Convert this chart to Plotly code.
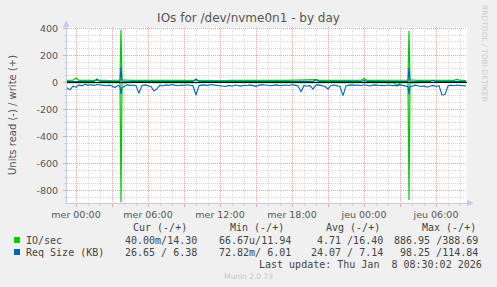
import pandas as pd
import plotly.graph_objects as go

# ---------------- data (15-minute samples, 2026-01-06 23:15 .. 2026-01-08 08:30) ----------------
start_time = "2026-01-06 23:15"

io_read = [
    1.2, 0.8, 1.5, 0.9, 0.6, 1.1, 0.4, 0.7, 0.9, 0.5,
    0.8, 0.6, 1.0, 0.5, 0.7, 0.9, 1.4, 2.0, 886.95, 3.0,
    0.6, 0.8, 0.4, 0.7, 1.8, 0.5, 0.6, 0.9, 0.7, 1.5,
    1.1, 0.5, 0.7, 0.4, 0.6, 0.3, 0.5, 0.8, 0.4, 0.6,
    0.5, 0.7, 0.9, 2.2, 0.6, 0.4, 0.5, 0.7, 0.3, 0.5,
    0.6, 0.4, 0.8, 0.7, 0.5, 0.9, 0.4, 0.6, 0.8, 0.5,
    0.7, 0.4, 0.5, 0.9, 0.6, 0.3, 0.5, 0.7, 0.8, 0.4,
    0.5, 0.7, 0.6, 0.4, 0.8, 0.3, 0.5, 0.9, 1.6, 0.6,
    0.8, 0.5, 1.2, 0.7, 0.4, 0.6, 0.9, 1.3, 0.5, 0.4,
    0.6, 0.9, 2.4, 0.7, 0.5, 0.4, 0.6, 0.5, 0.7, 0.8,
    0.5, 0.9, 0.6, 0.4, 0.7, 0.5, 0.8, 0.6, 0.5, 4.0,
    28.0, 0.7, 0.9, 1.4, 870.0, 2.8, 0.7, 0.5, 0.9, 0.6,
    1.1, 0.8, 0.6, 0.9, 0.7, 2.0, 1.8, 0.6, 0.5, 0.7,
    0.6, 0.5, 0.4, 0.04,
]

io_write = [
    15, 14.5, 16, 32, 15.2, 14.8, 15.5, 14.2, 15, 16.1,
    14.7, 15.3, 14.9, 15.6, 14.4, 15.1, 15.8, 16.5, 388.69, 18,
    15.2, 14.6, 15, 15.4, 14.8, 15.9, 14.3, 15.1, 14.7, 15.5,
    15, 14.6, 15.3, 14.9, 15.7, 14.2, 15.1, 14.8, 15.4, 15,
    14.7, 15.2, 15.6, 17, 14.9, 15.3, 14.5, 15, 15.8, 14.6,
    15.2, 14.9, 15.5, 14.4, 15.1, 15.7, 14.8, 15.3, 14.6, 15,
    15.4, 14.7, 15.1, 15.9, 14.5, 15.2, 14.8, 15.6, 15, 14.3,
    15.1, 14.9, 15.5, 14.6, 15.3, 14.8, 15.2, 15.7, 16, 15.1,
    14.7, 15.4, 16.2, 21, 15, 14.6, 15.3, 14.9, 15.5, 15.1,
    14.8, 15.2, 16.4, 15, 14.7, 15.3, 14.9, 15.6, 16, 30,
    15.5, 14.8, 15.2, 14.6, 15.1, 15.4, 14.9, 15.2, 14.7, 15.3,
    15, 14.6, 15.8, 16.5, 380, 18, 15.1, 14.8, 15.3, 14.9,
    15.5, 15, 16.2, 14.7, 15.1, 15.4, 14.8, 15.2, 14.6, 15,
    22, 15.1, 14.7, 14.30,
]

req_read = [
    40, 55, 28, 35, 18, 25, 14, 20, 17, 22,
    15, 19, 21, 24, 20, 26, 38, 22, 86, 30,
    18, 22, 19, 25, 80, 22, 18, 24, 30, 64,
    48, 20, 26, 18, 22, 16, 20, 24, 19, 22,
    17, 21, 25, 93, 24, 18, 20, 22, 16, 19,
    23, 21, 26, 30, 22, 28, 19, 24, 27, 21,
    25, 18, 22, 29, 20, 16, 19, 22, 25, 20,
    18, 24, 21, 19, 23, 17, 20, 26, 69, 22,
    28, 24, 50, 20, 18, 25, 30, 48, 22, 19,
    24, 30, 98.25, 26, 20, 18, 22, 19, 24, 17,
    21, 26, 20, 18, 23, 21, 25, 19, 22, 24,
    20, 18, 22, 30, 88, 28, 20, 24, 30, 26,
    35, 28, 22, 30, 24, 93, 90, 26, 20, 24,
    19, 22, 25, 26.65,
]

req_write = [
    7, 8, 6.5, 7, 6.8, 7.2, 6.6, 7, 7.4, 6.9,
    25, 7.1, 6.8, 7, 6.5, 7.3, 7, 8, 114.84, 9,
    7, 6.8, 7.2, 6.9, 7, 7.5, 6.6, 7, 6.8, 7.2,
    7, 6.7, 7.1, 6.9, 7.3, 6.6, 7, 7.2, 6.8, 7,
    6.9, 7.1, 7.5, 25, 7, 6.8, 7.2, 6.6, 7, 6.9,
    7.3, 7, 6.8, 7.1, 6.9, 7.2, 7, 6.7, 7.1, 6.9,
    7, 6.8, 7.2, 7, 6.6, 7.1, 6.9, 7.3, 7, 6.8,
    7.2, 6.9, 7, 6.7, 7.1, 7, 6.8, 7.2, 7.5, 7,
    6.9, 7.1, 7.3, 20, 7, 6.8, 7.2, 6.9, 7, 7.1,
    6.8, 7, 7.4, 7.1, 6.9, 7, 6.8, 7.2, 7, 15,
    7, 6.9, 7.1, 6.8, 7, 7.2, 6.9, 7, 7.1, 6.8,
    7, 7.2, 6.9, 8, 110, 9, 7, 6.8, 7.2, 7,
    6.9, 7.1, 15, 7, 6.8, 7.2, 7, 6.9, 7.1, 6.8,
    7, 6.9, 6.6, 6.38,
]

# extra 5-minute samples right around the two 03:45 bursts
extra_times = ["2026-01-07 03:40", "2026-01-07 03:50", "2026-01-08 03:40", "2026-01-08 03:50"]
extra_io_read = [2.0, 3.0, 1.4, 2.8]
extra_io_write = [16.5, 18.0, 16.5, 18.0]
extra_req_read = [30, 40, 32, 30]
extra_req_write = [8.0, 9.0, 8.0, 9.0]

x_tick_vals = ["2026-01-07 00:00", "2026-01-07 03:00", "2026-01-07 06:00", "2026-01-07 09:00",
               "2026-01-07 12:00", "2026-01-07 15:00", "2026-01-07 18:00", "2026-01-07 21:00",
               "2026-01-08 00:00", "2026-01-08 03:00", "2026-01-08 06:00"]
x_tick_text = ["mer 00:00", "", "mer 06:00", "", "mer 12:00", "", "mer 18:00", "",
               "jeu 00:00", "", "jeu 06:00"]
y_tick_vals = [-800, -600, -400, -200, 0, 200, 400]
y_tick_text = ["-800", "-600", "-400", "-200", "0", "200", "400"]

series_names = ["IO/sec", "Req Size (KB)"]
series_colors = ["#00CC00", "#0066B3"]
legend_headers = ["Cur (-/+)", "Min (-/+)", "Avg (-/+)", "Max (-/+)"]
legend_cur = ["40.00m/14.30", "26.65 / 6.38"]
legend_min = ["66.67u/11.94", "72.82m/ 6.01"]
legend_avg = ["4.71 /16.40", "24.07 / 7.14"]
legend_max = ["886.95 /388.69", "98.25 /114.84"]
last_update = "Last update: Thu Jan  8 08:30:02 2026"
title_text = "IOs for /dev/nvme0n1 - by day"
y_title = "Units read (-) / write (+)"
side_text = "RRDTOOL / TOBI OETIKER"
footer_text = "Munin 2.0.73"

# ---------------- assemble samples ----------------
base = pd.DataFrame({
    "t": pd.date_range(start_time, periods=len(io_read), freq="15min"),
    "io_read": io_read, "io_write": io_write,
    "req_read": req_read, "req_write": req_write,
})
extra = pd.DataFrame({
    "t": pd.to_datetime(extra_times),
    "io_read": extra_io_read, "io_write": extra_io_write,
    "req_read": extra_req_read, "req_write": extra_req_write,
})
df = pd.concat([base, extra]).sort_values("t").reset_index(drop=True)

# ---------------- figure ----------------
W, H = 497, 287
ML, MR, MT, MB = 67, 30, 27, 84
PW, PH = W - ML - MR, H - MT - MB

def PX(x):
    return (x - ML) / PW

def PY(y):
    return (MT + PH - y) / PH

fig = go.Figure()
fig.add_trace(go.Scatter(x=df["t"], y=-df["io_read"], mode="lines",
                         line=dict(color=series_colors[0], width=1.2), name=series_names[0]))
fig.add_trace(go.Scatter(x=df["t"], y=df["io_write"], mode="lines",
                         line=dict(color=series_colors[0], width=1.2), name=series_names[0]))
fig.add_trace(go.Scatter(x=df["t"], y=-df["req_read"], mode="lines",
                         line=dict(color=series_colors[1], width=1.1), name=series_names[1]))
fig.add_trace(go.Scatter(x=df["t"], y=df["req_write"], mode="lines",
                         line=dict(color=series_colors[1], width=1.1), name=series_names[1]))

major_grid = "#e8a4a4"
minor_grid = "#d6d6d6"
axis_col = "#c4c8ee"
tick_font = dict(family="DejaVu Sans", size=9.5, color="#555555")

fig.update_layout(
    width=W, height=H, autosize=False,
    margin=dict(l=ML, r=MR, t=MT, b=MB, pad=0),
    paper_bgcolor="#f0f0f0", plot_bgcolor="#ffffff",
    showlegend=False,
    title=dict(text=title_text, x=0.5, xref="container", xanchor="center",
               y=1 - 18 / H, yref="container", yanchor="middle",
               font=dict(family="DejaVu Sans", size=12, color="#555555")),
    xaxis=dict(type="date", range=["2026-01-06 23:15", "2026-01-08 08:35"],
               tickmode="array", tickvals=x_tick_vals, ticktext=x_tick_text,
               showgrid=True, gridcolor=major_grid, griddash="1px,1px", gridwidth=1,
               ticks="outside", ticklen=3, tickcolor=major_grid,
               minor=dict(dtick=3600000, tick0="2026-01-07 00:00", showgrid=True,
                          gridcolor=minor_grid, griddash="1px,1px",
                          ticks="outside", ticklen=2, tickcolor=minor_grid),
               showline=True, linecolor=axis_col, linewidth=1,
               tickfont=tick_font, zeroline=False, fixedrange=True),
    yaxis=dict(range=[-892, 410], tickmode="array", tickvals=y_tick_vals, ticktext=y_tick_text,
               showgrid=True, gridcolor=major_grid, griddash="1px,1px", gridwidth=1,
               ticks="outside", ticklen=3, tickcolor=major_grid,
               minor=dict(dtick=50, tick0=0, showgrid=True, gridcolor=minor_grid,
                          griddash="1px,1px", ticks="outside", ticklen=2, tickcolor=minor_grid),
               showline=True, linecolor=axis_col, linewidth=1,
               zeroline=False,
               tickfont=tick_font, ticklabelstandoff=3, fixedrange=True),
)

ann = []
ann.append(dict(text=y_title, x=PX(12), y=0.5, xref="paper", yref="paper", textangle=-90,
                showarrow=False, xanchor="center", yanchor="middle",
                font=dict(family="DejaVu Sans", size=10, color="#555555")))
ann.append(dict(text=side_text, x=PX(485), y=PY(53), xref="paper", yref="paper", textangle=90,
                showarrow=False, xanchor="center", yanchor="middle",
                font=dict(family="DejaVu Sans", size=7.5, color="#cccccc")))

mono = dict(family="DejaVu Sans Mono", size=10, color="#444444")

def text_at(txt, x, y, anchor):
    ann.append(dict(text=txt.replace(" ", "\u00a0"), x=PX(x), y=PY(y), xref="paper", yref="paper",
                    showarrow=False, xanchor=anchor, yanchor="middle",
                    borderpad=0, borderwidth=0, font=mono))

for hdr, xr in zip(legend_headers, [187, 284, 380, 476]):
    text_at(hdr, xr, 227.5, "right")

row_y = [240, 252]
for i in range(2):
    text_at(series_names[i], 26, row_y[i], "left")
    text_at(legend_cur[i], 197, row_y[i], "right")
    text_at(legend_min[i], 291, row_y[i], "right")
    text_at(legend_avg[i], 383, row_y[i], "right")
    text_at(legend_max[i], 478, row_y[i], "right")

text_at(last_update, 482, 264, "right")
ann.append(dict(text=footer_text, x=PX(248), y=PY(276.5), xref="paper", yref="paper",
                showarrow=False, xanchor="center", yanchor="middle",
                font=dict(family="DejaVu Sans", size=7.5, color="#c4c4c4")))
fig.update_layout(annotations=ann)

shapes = []
# zero line drawn above the data, as in the rrdtool image
shapes.append(dict(type="line", xref="paper", yref="y", x0=0, x1=1, y0=0, y1=0,
                   line=dict(color="#000000", width=1), layer="above"))
for i, yc in enumerate(row_y):
    shapes.append(dict(type="rect", xref="paper", yref="paper",
                       x0=PX(14), x1=PX(20), y0=PY(yc + 3), y1=PY(yc - 3),
                       fillcolor=series_colors[i], line=dict(width=0)))
shapes.append(dict(type="path", xref="paper", yref="paper",
                   path=f"M {PX(63)} {PY(27)} L {PX(69.5)} {PY(27)} L {PX(66.2)} {PY(20.5)} Z",
                   fillcolor=axis_col, line=dict(width=0)))
shapes.append(dict(type="path", xref="paper", yref="paper",
                   path=f"M {PX(467)} {PY(199.7)} L {PX(467)} {PY(206.3)} L {PX(473.5)} {PY(203)} Z",
                   fillcolor=axis_col, line=dict(width=0)))
fig.update_layout(shapes=shapes)

fig.write_html("out.html", config={"displayModeBar": False})
